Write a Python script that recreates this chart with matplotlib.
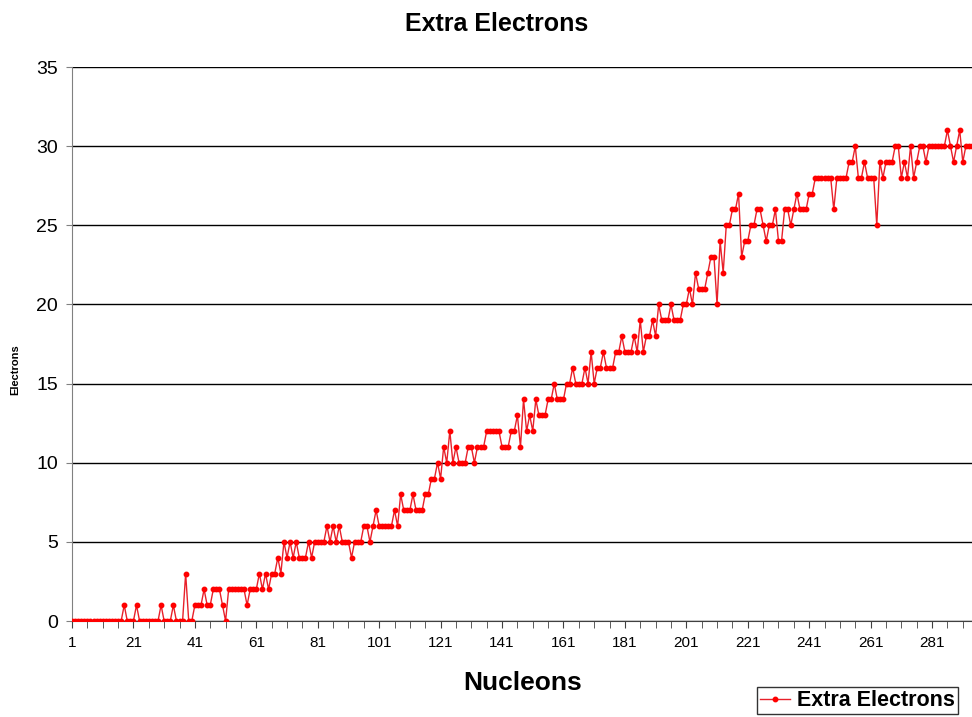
import matplotlib
matplotlib.use("Agg")
import matplotlib.pyplot as plt
from matplotlib.ticker import MultipleLocator, FixedLocator

plt.rcParams["font.family"] = ["Liberation Sans", "DejaVu Sans"]

# =========================
# DATA
# =========================

# extra electrons for nucleons 1..294 (10 per row)
electrons = [
    0, 0, 0, 0, 0, 0, 0, 0, 0, 0,
    0, 0, 0, 0, 0, 0, 0, 1, 0, 0,
    0, 1, 0, 0, 0, 0, 0, 0, 0, 1,
    0, 0, 0, 1, 0, 0, 0, 3, 0, 0,
    1, 1, 1, 2, 1, 1, 2, 2, 2, 1,
    0, 2, 2, 2, 2, 2, 2, 1, 2, 2,
    2, 3, 2, 3, 2, 3, 3, 4, 3, 5,
    4, 5, 4, 5, 4, 4, 4, 5, 4, 5,
    5, 5, 5, 6, 5, 6, 5, 6, 5, 5,
    5, 4, 5, 5, 5, 6, 6, 5, 6, 7,
    6, 6, 6, 6, 6, 7, 6, 8, 7, 7,
    7, 8, 7, 7, 7, 8, 8, 9, 9, 10,
    9, 11, 10, 12, 10, 11, 10, 10, 10, 11,
    11, 10, 11, 11, 11, 12, 12, 12, 12, 12,
    11, 11, 11, 12, 12, 13, 11, 14, 12, 13,
    12, 14, 13, 13, 13, 14, 14, 15, 14, 14,
    14, 15, 15, 16, 15, 15, 15, 16, 15, 17,
    15, 16, 16, 17, 16, 16, 16, 17, 17, 18,
    17, 17, 17, 18, 17, 19, 17, 18, 18, 19,
    18, 20, 19, 19, 19, 20, 19, 19, 19, 20,
    20, 21, 20, 22, 21, 21, 21, 22, 23, 23,
    20, 24, 22, 25, 25, 26, 26, 27, 23, 24,
    24, 25, 25, 26, 26, 25, 24, 25, 25, 26,
    24, 24, 26, 26, 25, 26, 27, 26, 26, 26,
    27, 27, 28, 28, 28, 28, 28, 28, 26, 28,
    28, 28, 28, 29, 29, 30, 28, 28, 29, 28,
    28, 28, 25, 29, 28, 29, 29, 29, 30, 30,
    28, 29, 28, 30, 28, 29, 30, 30, 29, 30,
    30, 30, 30, 30, 30, 31, 30, 29, 30, 31,
    29, 30, 30, 30,
]
nucleons = list(range(1, len(electrons) + 1))

x_tick_labels = [1, 21, 41, 61, 81, 101, 121, 141, 161, 181, 201, 221, 241, 261, 281]
y_ticks = [0, 5, 10, 15, 20, 25, 30, 35]

# =========================
# FIGURE
# =========================

fig = plt.figure(figsize=(9.72, 7.17), dpi=100)
ax = fig.add_axes([72 / 972, 1 - 621 / 717, 1 - 72 / 972, (621 - 67) / 717])

ax.plot(nucleons, electrons, color="#e8202a", lw=1.0,
        marker="o", markersize=3.2, markerfacecolor="red",
        markeredgecolor="red", label="Extra Electrons", zorder=3)

ax.set_xlim(1, len(electrons))
ax.set_ylim(0, 35)

ax.set_yticks(y_ticks)
ax.yaxis.grid(True, color="black", lw=1.0)
ax.set_axisbelow(True)
ax.tick_params(axis="y", labelsize=14, length=4, color="#808080", pad=6)

ax.xaxis.set_major_locator(FixedLocator(x_tick_labels))
ax.set_xticklabels([str(v) for v in x_tick_labels])
ax.xaxis.set_minor_locator(MultipleLocator(5, offset=1))
ax.tick_params(axis="x", which="both", labelsize=11, length=5,
               color="#404040", pad=6)

for side in ["top", "right"]:
    ax.spines[side].set_visible(False)
ax.spines["left"].set_color("#808080")
ax.spines["bottom"].set_color("#404040")

# =========================
# TEXT
# =========================

fig.text(0.511, 0.967, "Extra Electrons", ha="center", va="center",
         fontsize=18, fontweight="bold")
fig.text(0.538, 0.047, "Nucleons", ha="center", va="center",
         fontsize=19, fontweight="bold")
fig.text(0.0154, 0.484, "Electrons", ha="center", va="center",
         rotation=90, fontsize=8, fontweight="bold")

leg = fig.legend(loc="upper left", bbox_to_anchor=(757 / 972, 1 - 687 / 717),
                 prop={"weight": "bold", "size": 15.5},
                 frameon=True, fancybox=False, handlelength=1.4,
                 borderpad=0.15, handletextpad=0.3, borderaxespad=0)
leg.get_frame().set_edgecolor("black")
leg.get_frame().set_linewidth(1.0)

fig.savefig("out.png", dpi=100)
